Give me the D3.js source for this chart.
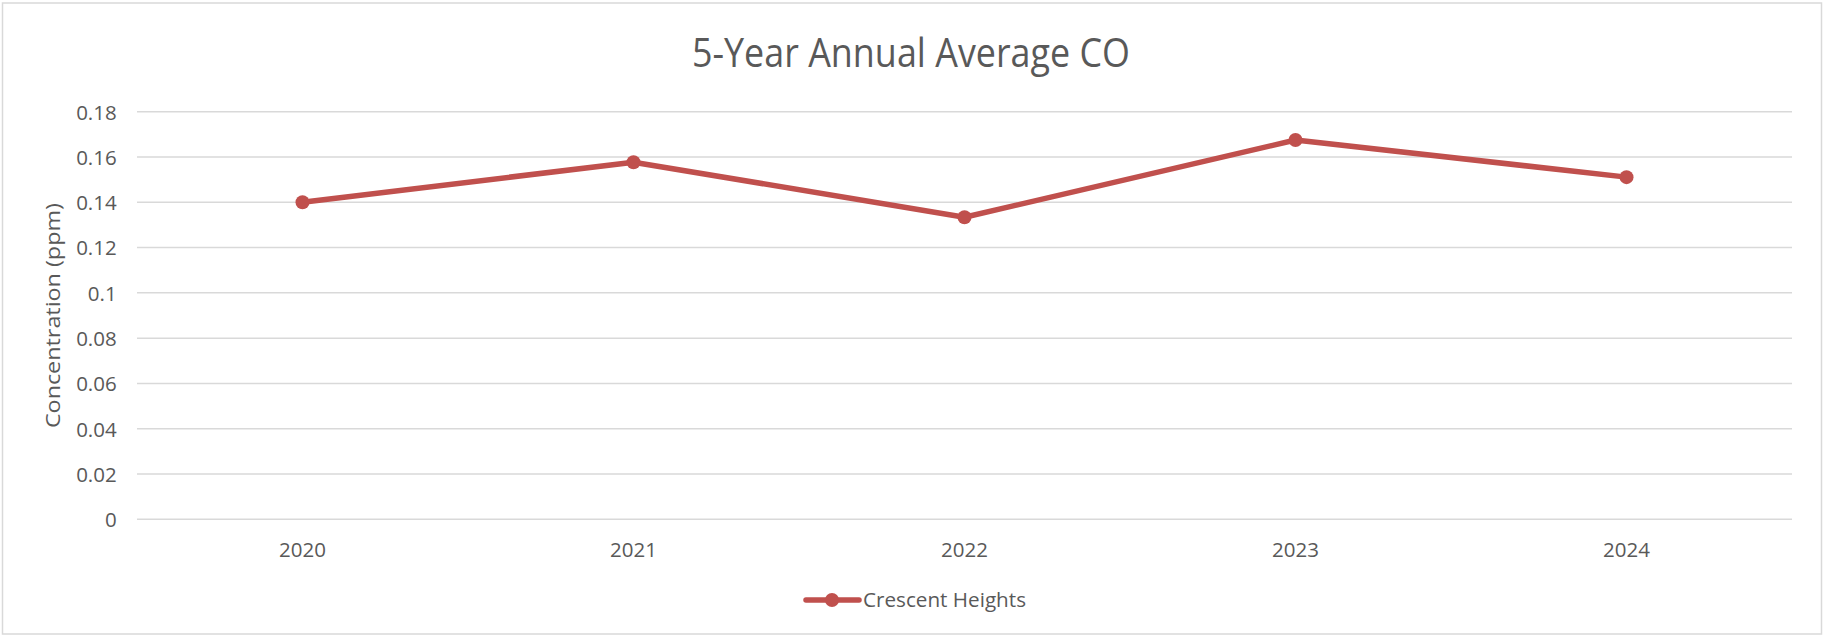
<!DOCTYPE html>
<html>
<head>
<meta charset="utf-8">
<script src="https://cdn.jsdelivr.net/npm/d3@7"></script>
<style>
  html, body { margin: 0; padding: 0; background: #fff; }
  svg { display: block; }
  text { font-family: "Open Sans", "Noto Sans", sans-serif; fill: #595959; }
</style>
</head>
<body>
<svg id="chart" width="1825" height="636"></svg>
<script>
const title = "5-Year Annual Average CO";
const yAxisTitle = "Concentration (ppm)";
const seriesName = "Crescent Heights";
const categories = ["2020", "2021", "2022", "2023", "2024"];
const values = [0.140, 0.1577, 0.1334, 0.1675, 0.1511];
const yTicks = [0, 0.02, 0.04, 0.06, 0.08, 0.1, 0.12, 0.14, 0.16, 0.18];

const W = 1825, H = 636;
const plot = { left: 137, right: 1792, top: 111.7, bottom: 519.3 };
const color = "#C0504D";
const gridColor = "#D9D9D9";

const svg = d3.select("#chart");

// chart border
svg.append("rect")
  .attr("x", 2.5).attr("y", 3).attr("width", 1819).attr("height", 631)
  .attr("fill", "#fff").attr("stroke", gridColor).attr("stroke-width", 1.5);

const x = d3.scaleBand().domain(categories).range([plot.left, plot.right]);
const y = d3.scaleLinear().domain([0, 0.18]).range([plot.bottom, plot.top]);

// gridlines
svg.append("g").selectAll("line").data(yTicks).join("line")
  .attr("x1", plot.left).attr("x2", plot.right)
  .attr("y1", d => y(d)).attr("y2", d => y(d))
  .attr("stroke", gridColor).attr("stroke-width", 1.5);

// y axis labels
const yAxis = d3.axisLeft(y).tickValues(yTicks).tickSize(0).tickPadding(0)
  .tickFormat(d => String(+d.toFixed(2)));
const yg = svg.append("g").attr("transform", `translate(116.7,0)`).call(yAxis);
yg.select(".domain").remove();
yg.selectAll("text").attr("font-size", 20.5).attr("fill", "#595959")
  .attr("font-family", '"Open Sans", sans-serif').attr("dy", "0.36em");

// x axis labels
const xAxis = d3.axisBottom(x).tickSize(0).tickPadding(0);
const xg = svg.append("g").attr("transform", `translate(0,${plot.bottom})`).call(xAxis);
xg.select(".domain").remove();
xg.selectAll("text").attr("font-size", 20.5).attr("fill", "#595959")
  .attr("font-family", '"Open Sans", sans-serif').attr("dy", null).attr("y", 37.4);

// title
svg.append("text").attr("x", 911).attr("y", 66.7).attr("text-anchor", "middle")
  .attr("font-size", 40).attr("textLength", 438).attr("lengthAdjust", "spacingAndGlyphs")
  .text(title);

// y axis title
svg.append("text")
  .attr("transform", `translate(${53 + 7},315.6) rotate(-90)`)
  .attr("text-anchor", "middle").attr("font-size", 20.5)
  .attr("textLength", 225).attr("lengthAdjust", "spacingAndGlyphs")
  .text(yAxisTitle);

// line
const cx = d => x(d) + x.bandwidth() / 2;
const line = d3.line().x((d, i) => cx(categories[i])).y(d => y(d));
svg.append("path").datum(values).attr("d", line)
  .attr("fill", "none").attr("stroke", color).attr("stroke-width", 5.5)
  .attr("stroke-linejoin", "round").attr("stroke-linecap", "round");

svg.append("g").selectAll("circle").data(values).join("circle")
  .attr("cx", (d, i) => cx(categories[i])).attr("cy", d => y(d))
  .attr("r", 7).attr("fill", color);

// legend
const lg = svg.append("g");
lg.append("line").attr("x1", 806).attr("x2", 859).attr("y1", 600).attr("y2", 600)
  .attr("stroke", color).attr("stroke-width", 5.5).attr("stroke-linecap", "round");
lg.append("circle").attr("cx", 832).attr("cy", 600).attr("r", 7).attr("fill", color);
lg.append("text").attr("x", 863).attr("y", 600).attr("dy", "0.36em")
  .attr("font-size", 20.5).attr("textLength", 163).attr("lengthAdjust", "spacingAndGlyphs")
  .text(seriesName);
</script>
</body>
</html>
